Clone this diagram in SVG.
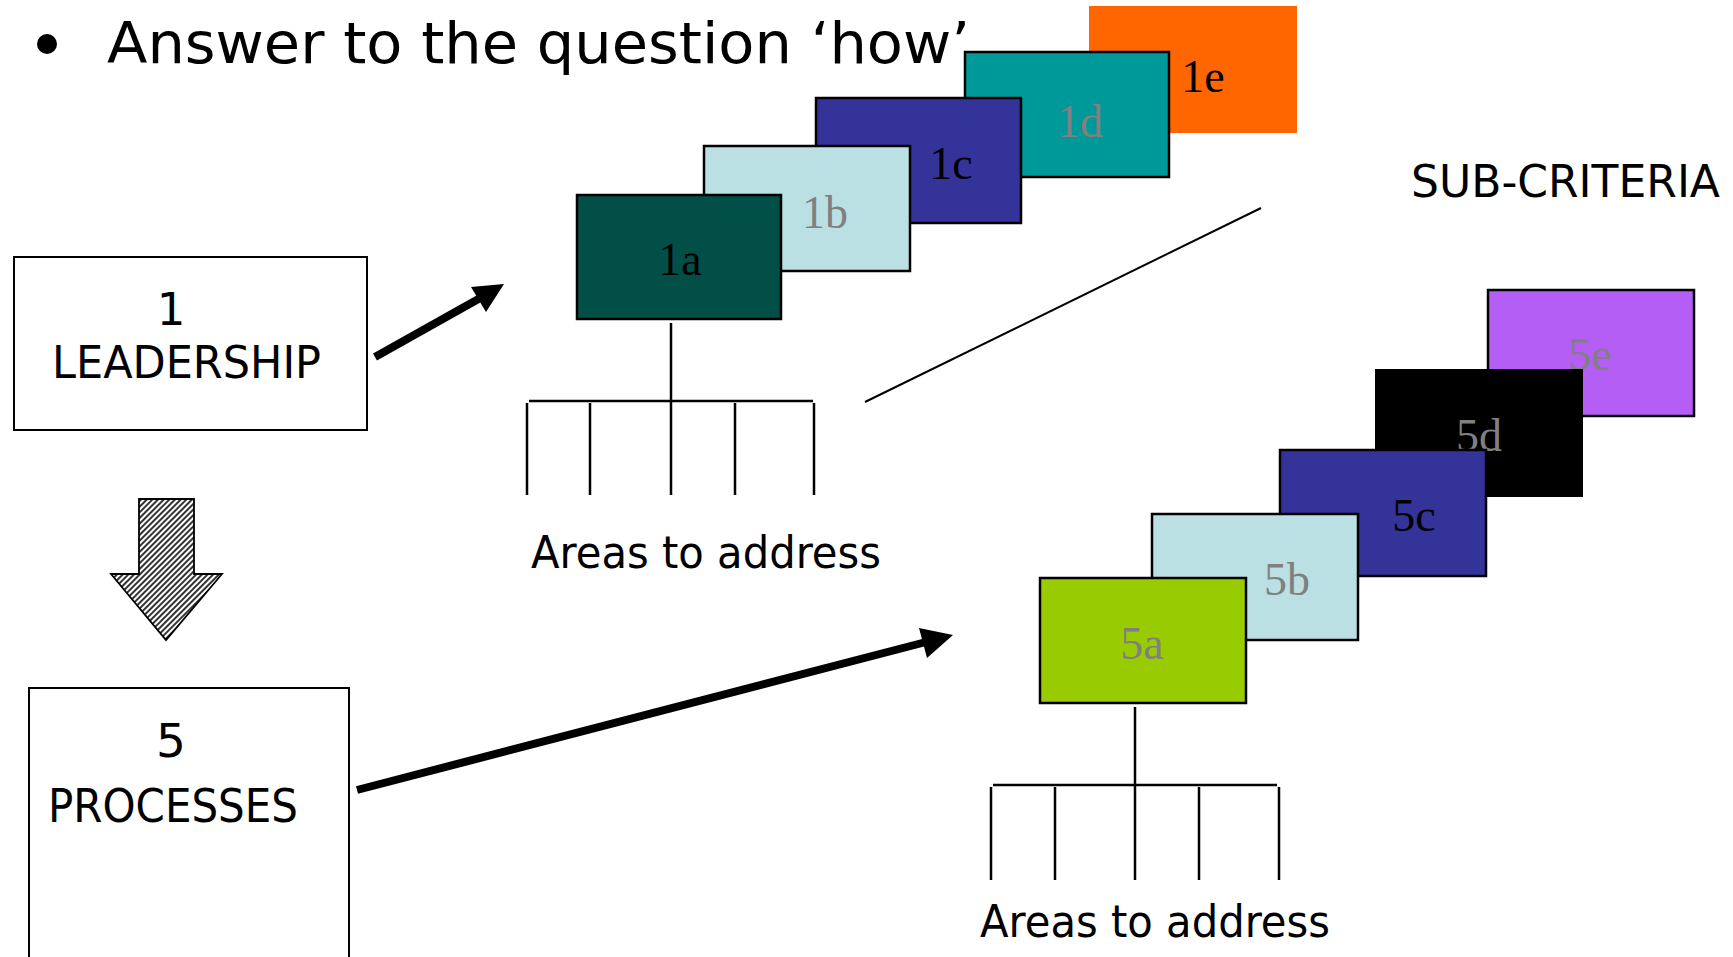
<svg xmlns="http://www.w3.org/2000/svg" width="1733" height="957" viewBox="0 0 1733 957">
  <style>
    .sans { font-family: "DejaVu Sans", Verdana, "Liberation Sans", sans-serif; fill: #000; }
    .serif { font-family: "Liberation Serif", "Times New Roman", serif; font-size: 46px; text-anchor: middle; }
    .dark { fill: #000; }
    .grey { fill: #808080; }
    .card { stroke: #000; stroke-width: 2.5; }
    .frame { fill: #fff; stroke: #000; stroke-width: 2; }
    .tree { stroke: #000; stroke-width: 2.5; fill: none; }
    .shaft { stroke: #000; stroke-width: 8; fill: none; }
  </style>
  <defs>
    <pattern id="hatch" patternUnits="userSpaceOnUse" width="4" height="4" patternTransform="rotate(45)">
      <rect width="4" height="4" fill="#fff"/>
      <line x1="1" y1="0" x2="1" y2="4" stroke="#000" stroke-width="1.6"/>
    </pattern>
  </defs>

  <rect width="1733" height="957" fill="#fff"/>

  <!-- heading -->
  <g id="heading">
    <circle cx="47" cy="44" r="10" fill="#000"/>
    <text class="sans" x="107" y="63" font-size="57" textLength="863" lengthAdjust="spacingAndGlyphs">Answer to the question ‘how’</text>
  </g>

  <!-- criterion boxes -->
  <g id="leadership">
    <rect class="frame" x="14" y="257" width="353" height="173"/>
    <text class="sans" x="171" y="325" font-size="45" text-anchor="middle">1</text>
    <text class="sans" x="52" y="378" font-size="45" textLength="269" lengthAdjust="spacingAndGlyphs">LEADERSHIP</text>
  </g>

  <g id="processes">
    <rect class="frame" x="29" y="688" width="320" height="290"/>
    <text class="sans" x="171" y="757" font-size="47" text-anchor="middle">5</text>
    <text class="sans" x="48" y="822" font-size="47" textLength="250" lengthAdjust="spacingAndGlyphs">PROCESSES</text>
  </g>

  <g id="sub-criteria-label">
    <text class="sans" x="1411" y="197" font-size="45" textLength="309" lengthAdjust="spacingAndGlyphs">SUB-CRITERIA</text>
  </g>

  <!-- sub-criteria of criterion 1, back to front -->
  <g id="c1e">
    <rect x="1089" y="6" width="208" height="127" fill="#FF6600"/>
    <text class="serif dark" x="1203" y="92">1e</text>
  </g>
  <g id="c1d">
    <rect class="card" x="965" y="52" width="204" height="125" fill="#009999"/>
    <text class="serif grey" x="1080" y="137">1d</text>
  </g>
  <g id="c1c">
    <rect class="card" x="816" y="98" width="205" height="125" fill="#333399"/>
    <text class="serif dark" x="951" y="179">1c</text>
  </g>
  <g id="c1b">
    <rect class="card" x="704" y="146" width="206" height="125" fill="#BAE0E3"/>
    <text class="serif grey" x="825" y="228">1b</text>
  </g>
  <g id="c1a">
    <rect class="card" x="577" y="195" width="204" height="124" fill="#024F48"/>
    <text class="serif dark" x="680" y="275">1a</text>
  </g>

  <!-- sub-criteria of criterion 5, back to front -->
  <g id="c5e">
    <rect class="card" x="1488" y="290" width="206" height="126" fill="#B55EF5"/>
    <text class="serif grey" x="1590" y="370">5e</text>
  </g>
  <g id="c5d">
    <rect x="1375" y="369" width="208" height="128" fill="#000"/>
    <text class="serif grey" x="1479" y="451">5d</text>
  </g>
  <g id="c5c">
    <rect class="card" x="1280" y="450" width="206" height="126" fill="#333399"/>
    <text class="serif dark" x="1414" y="531">5c</text>
  </g>
  <g id="c5b">
    <rect class="card" x="1152" y="514" width="206" height="126" fill="#BAE0E3"/>
    <text class="serif grey" x="1287" y="595">5b</text>
  </g>
  <g id="c5a">
    <rect class="card" x="1040" y="578" width="206" height="125" fill="#99CC00"/>
    <text class="serif grey" x="1142" y="659">5a</text>
  </g>

  <!-- areas to address -->
  <g id="areas-1">
    <text class="sans" x="531" y="568" font-size="44" textLength="350" lengthAdjust="spacingAndGlyphs">Areas to address</text>
  </g>
  <g id="areas-5">
    <text class="sans" x="980" y="937" font-size="44" textLength="350" lengthAdjust="spacingAndGlyphs">Areas to address</text>
  </g>

  <!-- connectors -->
  <g id="connectors">
    <!-- tree below 1a -->
    <path class="tree" d="M671 323 V401 M529 401 H813 M527 403 V495 M590 403 V495 M671 401 V495 M735 403 V495 M814 403 V495"/>
    <!-- tree below 5a -->
    <path class="tree" d="M1135 707 V785 M993 785 H1277 M991 787 V880 M1055 787 V880 M1135 785 V880 M1199 787 V880 M1279 787 V880"/>
    <!-- divider between the two groups -->
    <line x1="865" y1="402" x2="1261" y2="208" stroke="#000" stroke-width="2"/>
    <!-- leadership to 1a -->
    <line class="shaft" x1="375" y1="357" x2="482" y2="297"/>
    <polygon points="504,284 471,287 486,312" fill="#000"/>
    <!-- processes to 5a -->
    <line class="shaft" x1="357" y1="790" x2="926" y2="642"/>
    <polygon points="953,635 919,628 927,658" fill="#000"/>
    <!-- leadership down to processes -->
    <polygon points="139,499 194,499 194,574 222,574 166,640 111,574 139,574" fill="url(#hatch)" stroke="#000" stroke-width="1.8" stroke-linejoin="miter"/>
  </g>
</svg>
